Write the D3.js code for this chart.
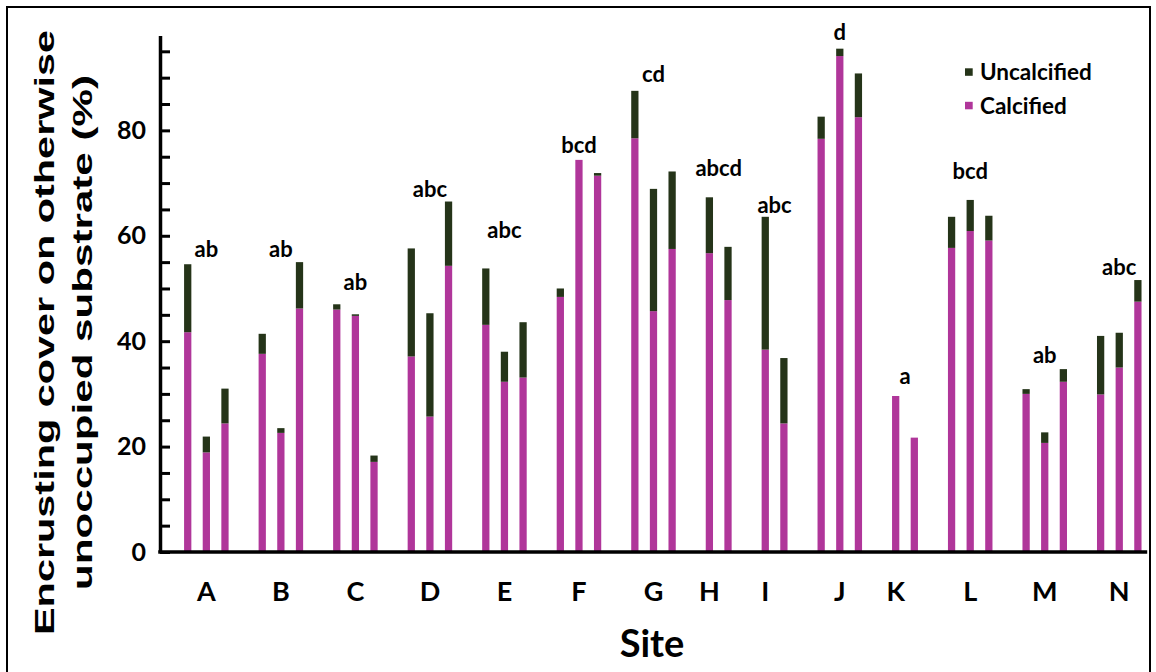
<!DOCTYPE html>
<html>
<head>
<meta charset="utf-8">
<script src="https://cdn.jsdelivr.net/npm/d3@7"></script>
<style>
  html, body { margin: 0; padding: 0; background: #fff; }
  svg { display: block; }
  text { font-family: Lato, "Open Sans", sans-serif; font-weight: 700; fill: #000; }
</style>
</head>
<body>
<svg id="chart" width="1156" height="672"></svg>
<script>
// ---- data ----
const sites = ["A","B","C","D","E","F","G","H","I","J","K","L","M","N"];
const calcified = [
  [41.7, 18.9, 24.4], [37.6, 22.6, 46.2], [46.0, 44.8, 17.1], [37.1, 25.7, 54.3],
  [43.1, 32.3, 33.1], [48.4, 74.4, 71.4], [78.5, 45.7, 57.5], [56.7, 47.8],
  [38.4, 24.4], [78.4, 94.1, 82.5], [29.6, 21.7], [57.7, 60.9, 59.1],
  [30.0, 20.7, 32.3], [29.9, 35.0, 47.5]
];
const uncalcified = [
  [12.9, 3.0, 6.6], [3.8, 0.9, 8.8], [1.0, 0.3, 1.2], [20.5, 19.6, 12.2],
  [10.7, 5.7, 10.5], [1.6, 0.0, 0.5], [9.0, 23.2, 14.7], [10.6, 10.1],
  [25.2, 12.4], [4.2, 1.4, 8.3], [0.0, 0.0], [5.9, 5.9, 4.7],
  [0.9, 2.0, 2.4], [11.1, 6.6, 4.1]
];
const groupLetters = ["ab","ab","ab","abc","abc","bcd","cd","abcd","abc","d","a","bcd","ab","abc"];
const letterLevels = [56.0, 56.0, 49.8, 67.4, 59.5, 75.8, 89.1, 71.4, 64.4, 97.2, 31.8, 70.7, 35.8, 52.6];
const yTicks = d3.range(0, 96, 5);
const yTickLabels = [0, 20, 40, 60, 80];
const seriesNames = ["Uncalcified", "Calcified"];
const seriesColors = { Calcified: "#B0369A", Uncalcified: "#253419" };

// ---- layout ----
const svg = d3.select("#chart");
const baseY = 552, topY = 35.5, axisX = 160, axisEndX = 1147.2;

// flatten bars into slots (one empty slot between sites)
const bars = [];
const groups = [];
let slot = 0;
sites.forEach((s, gi) => {
  const slots = [];
  calcified[gi].forEach((c, bi) => {
    bars.push({ site: s, slot: slot, calcified: c, uncalcified: uncalcified[gi][bi] });
    slots.push(slot);
    slot++;
  });
  groups.push({ site: s, slots: slots, letter: groupLetters[gi], level: letterLevels[gi] });
  slot++;
});
const nSlots = slot - 1;

const x = d3.scaleBand()
  .domain(d3.range(nSlots))
  .range([178.4, axisEndX])
  .paddingInner(0.61)
  .paddingOuter(0.305);
const xc = i => x(i) + x.bandwidth() / 2;

const y = d3.scaleLinear().domain([0, 98]).range([baseY, topY]);

// frame
svg.append("rect")
  .attr("x", 7).attr("y", 7).attr("width", 1143).attr("height", 700)
  .attr("fill", "none").attr("stroke", "#000").attr("stroke-width", 2);

// stacked bars
const stack = d3.stack().keys(["Calcified", "Uncalcified"])
  .value((d, k) => k === "Calcified" ? d.calcified : d.uncalcified);
const layers = stack(bars);
svg.append("g").selectAll("g")
  .data(layers).join("g")
  .attr("fill", d => seriesColors[d.key])
  .selectAll("rect")
  .data(d => d.filter(p => p[1] - p[0] > 0))
  .join("rect")
  .attr("x", p => x(p.data.slot))
  .attr("width", x.bandwidth())
  .attr("y", p => y(p[1]))
  .attr("height", p => y(p[0]) - y(p[1]));

// y axis
const yAxis = d3.axisLeft(y)
  .tickValues(yTicks)
  .tickSize(-10)
  .tickSizeOuter(0)
  .tickPadding(14)
  .tickFormat(d => yTickLabels.includes(d) ? d : "");
const gy = svg.append("g").attr("transform", `translate(${axisX},0)`).call(yAxis);
gy.select(".domain").attr("stroke", "#000").attr("stroke-width", 3.5);
gy.selectAll(".tick line").attr("stroke", "#000").attr("stroke-width", 3);
gy.selectAll(".tick text")
  .style("font-family", "Lato, sans-serif").style("font-weight", 700)
  .style("font-size", "25px").attr("fill", "#000");

// x axis line
svg.append("line")
  .attr("x1", axisX - 1.75).attr("x2", axisEndX)
  .attr("y1", baseY).attr("y2", baseY)
  .attr("stroke", "#000").attr("stroke-width", 3.5);

// site labels
svg.append("g").selectAll("text")
  .data(groups).join("text")
  .attr("x", g => xc(g.slots[Math.floor((g.slots.length - 1) / 2)]))
  .attr("y", 601)
  .attr("text-anchor", "middle")
  .style("font-size", "27px")
  .text(g => g.site);

// significance letters
svg.append("g").selectAll("text")
  .data(groups).join("text")
  .attr("x", g => d3.mean(g.slots, xc))
  .attr("y", g => y(g.level))
  .attr("text-anchor", "middle")
  .style("font-size", "22px")
  .text(g => g.letter);

// axis titles
svg.append("text")
  .attr("x", 652).attr("y", 657)
  .attr("text-anchor", "middle")
  .style("font-size", "38px")
  .text("Site");

const yTitle = svg.append("g").attr("transform", "translate(0,332.5) rotate(-90)");
[["Encrusting cover on otherwise", 53.5, 605], ["unoccupied substrate (%)", 92, 515]].forEach(([t, bx, len]) => {
  yTitle.append("text")
    .attr("x", 0).attr("y", bx)
    .attr("text-anchor", "middle")
    .attr("textLength", len)
    .attr("lengthAdjust", "spacingAndGlyphs")
    .style("font-family", "'Liberation Sans', Arial, sans-serif")
    .style("font-size", "28px")
    .text(t);
});

// legend
const legend = svg.append("g");
seriesNames.forEach((name, i) => {
  const ly = 80 + i * 33.5;
  legend.append("rect")
    .attr("x", 965).attr("y", ly - 11.7).attr("width", 7.7).attr("height", 7.5)
    .attr("fill", seriesColors[name]);
  legend.append("text")
    .attr("x", 980).attr("y", ly)
    .style("font-size", "22.5px")
    .text(name);
});
</script>
</body>
</html>
